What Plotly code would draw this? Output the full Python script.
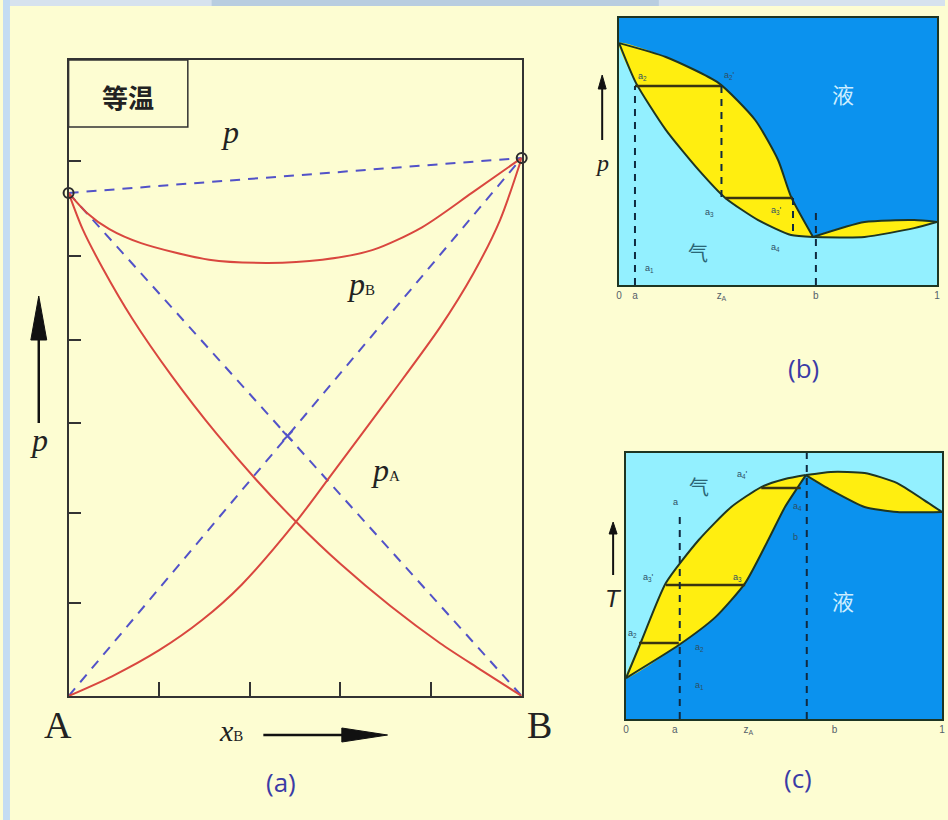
import plotly.graph_objects as go

W, H = 948, 820

# ---------------- Panel (a): isothermal p - x_B diagram (pressure in arbitrary units 0-100)
pA_star = 79.1
pB_star = 84.6
a_total_x = [0, 0.04, 0.09, 0.16, 0.31, 0.44, 0.56, 0.67, 0.78, 0.89, 1.0]
a_total_p = [79.1, 76.0, 73.4, 71.2, 68.6, 68.1, 68.6, 70.1, 73.7, 79.1, 84.6]
a_pA_x = [0, 0.031, 0.075, 0.140, 0.228, 0.327, 0.414, 0.502, 0.601, 0.711, 0.82, 0.908, 1.0]
a_pA_p = [79.1, 73.4, 67.3, 59.4, 50.3, 41.2, 34.0, 27.4, 20.7, 14.1, 8.3, 4.2, 0]
a_pB_x = [0, 0.096, 0.2, 0.294, 0.382, 0.502, 0.579, 0.711, 0.82, 0.893, 0.952, 1.0]
a_pB_p = [0, 3.1, 7.2, 11.9, 17.5, 27.4, 34.7, 47.3, 58.0, 66.4, 74.8, 84.6]
a_yticks = [84.1, 69.2, 56.0, 42.9, 28.8, 14.6]
a_xticks = [0.2, 0.4, 0.6, 0.8]

# ---------------- Panel (b): p - x diagram with minimum
b_liq_x = [0, 0.147, 0.3125, 0.428, 0.5, 0.541, 0.61]
b_liq_y = [90.6, 85.4, 75.7, 61.8, 46.8, 33.0, 18.0]
b_vap_x = [0, 0.053, 0.147, 0.25, 0.334, 0.4375, 0.541, 0.61]
b_vap_y = [90.6, 75.7, 58.1, 43.1, 32.6, 24.3, 18.7, 18.0]
b_rliq_x = [0.61, 0.772, 0.928, 1.0]
b_rliq_y = [18.0, 23.6, 24.3, 23.6]
b_rvap_x = [0.61, 0.772, 0.928, 1.0]
b_rvap_y = [18.0, 18.0, 21.3, 23.6]
b_a, b_zA, b_b, b_a3p = 0.05, 0.322, 0.619, 0.547
b_tie1_y, b_tie2_y, b_a4_y, b_bdash_top = 74.5, 32.6, 18.3, 29.2
b_tie2_x0 = 0.334
b_tick_vals = [0, 0.05, 0.322, 0.619, 1.0]
b_tick_text = ["0", "a", "z<sub>A</sub>", "b", "1"]

# ---------------- Panel (c): T - x diagram with maximum
c_vap_x = [0, 0.050, 0.126, 0.230, 0.333, 0.428, 0.503, 0.569]
c_vap_y = [15.4, 29.7, 51.1, 67.3, 79.7, 87.2, 90.2, 91.7]
c_liq_x = [0, 0.167, 0.283, 0.377, 0.450, 0.503, 0.544, 0.569]
c_liq_y = [15.4, 27.8, 38.3, 51.1, 67.3, 79.7, 87.2, 91.7]
c_rvap_x = [0.569, 0.648, 0.755, 0.858, 0.943, 1.0]
c_rvap_y = [91.7, 92.9, 92.5, 88.7, 82.3, 77.8]
c_rliq_x = [0.569, 0.648, 0.755, 0.858, 1.0]
c_rliq_y = [91.7, 86.1, 79.7, 77.8, 77.8]
c_a, c_b = 0.17, 0.572
c_a_top = 77.4
c_ties = [(0.041, 0.167, 28.6), (0.126, 0.377, 50.4), (0.428, 0.553, 86.8)]
c_tick_vals = [0, 0.154, 0.387, 0.66, 1.0]
c_tick_text = ["0", "a", "z<sub>A</sub>", "b", "1"]

# ---------------- colours
BG = "#FDFDD2"
RED = "#D9473F"
DBLUE = "#5252C8"
LIQ = "#0B92EE"
VAP = "#93F0FF"
YEL = "#FFEE10"
EDGE = "#1E3522"
LBL = "#3B3BA6"


def fx(px):
    return px / W


def fy(py):
    return 1 - py / H


fig = go.Figure()

# ======= Panel (a)
for xs, ys in [([0, 1], [pA_star, pB_star]), ([0, 1], [pA_star, 0]), ([0, 1], [0, pB_star])]:
    fig.add_trace(go.Scatter(x=xs, y=ys, mode="lines",
                             line=dict(color=DBLUE, width=2, dash="10px,8px"),
                             xaxis="x", yaxis="y", hoverinfo="skip"))
xi = pA_star / (pA_star + pB_star)
fig.add_trace(go.Scatter(x=[xi], y=[pA_star * (1 - xi)], mode="markers",
                         marker=dict(symbol="x-thin", size=10, color=DBLUE,
                                     line=dict(color=DBLUE, width=2)),
                         xaxis="x", yaxis="y", hoverinfo="skip"))
for xs, ys in [(a_total_x, a_total_p), (a_pA_x, a_pA_p), (a_pB_x, a_pB_p)]:
    fig.add_trace(go.Scatter(x=xs, y=ys, mode="lines",
                             line=dict(color=RED, width=2, shape="spline", smoothing=0.8),
                             xaxis="x", yaxis="y", hoverinfo="skip", cliponaxis=False))
fig.add_trace(go.Scatter(x=[0, 1], y=[pA_star, pB_star], mode="markers",
                         marker=dict(symbol="circle-open", size=10, color="#2a2a2a",
                                     line=dict(color="#2a2a2a", width=2)),
                         xaxis="x", yaxis="y", hoverinfo="skip", cliponaxis=False))

# ======= Panel (b)
fig.add_trace(go.Scatter(
    x=[0] + b_liq_x + b_rliq_x[1:] + [1, 0],
    y=[100] + b_liq_y + b_rliq_y[1:] + [100, 100],
    mode="lines", fill="toself", fillcolor=LIQ, line=dict(width=0, shape="spline", smoothing=0.6),
    xaxis="x2", yaxis="y2", hoverinfo="skip"))
fig.add_trace(go.Scatter(
    x=b_liq_x + b_vap_x[::-1], y=b_liq_y + b_vap_y[::-1],
    mode="lines", fill="toself", fillcolor=YEL, line=dict(width=0, shape="spline", smoothing=0.6),
    xaxis="x2", yaxis="y2", hoverinfo="skip"))
fig.add_trace(go.Scatter(
    x=b_rliq_x + b_rvap_x[::-1], y=b_rliq_y + b_rvap_y[::-1],
    mode="lines", fill="toself", fillcolor=YEL, line=dict(width=0, shape="spline", smoothing=0.6),
    xaxis="x2", yaxis="y2", hoverinfo="skip"))
for xs, ys in [(b_liq_x, b_liq_y), (b_vap_x, b_vap_y), (b_rliq_x, b_rliq_y), (b_rvap_x, b_rvap_y)]:
    fig.add_trace(go.Scatter(x=xs, y=ys, mode="lines",
                             line=dict(color=EDGE, width=2, shape="spline", smoothing=0.6),
                             xaxis="x2", yaxis="y2", hoverinfo="skip", cliponaxis=False))
fig.add_trace(go.Scatter(x=[b_a, b_zA], y=[b_tie1_y, b_tie1_y], mode="lines",
                         line=dict(color="#3a3410", width=2.5), xaxis="x2", yaxis="y2", hoverinfo="skip"))
fig.add_trace(go.Scatter(x=[b_tie2_x0, b_a3p], y=[b_tie2_y, b_tie2_y], mode="lines",
                         line=dict(color="#3a3410", width=2.5), xaxis="x2", yaxis="y2", hoverinfo="skip"))
for xv, y0, y1 in [(b_a, 0, b_tie1_y), (b_zA, b_tie1_y, b_tie2_y), (b_a3p, b_tie2_y, b_a4_y), (b_b, 0, b_bdash_top)]:
    fig.add_trace(go.Scatter(x=[xv, xv], y=[y0, y1], mode="lines",
                             line=dict(color="#102a40", width=2, dash="7px,6px"),
                             xaxis="x2", yaxis="y2", hoverinfo="skip"))

# ======= Panel (c)
fig.add_trace(go.Scatter(
    x=[0] + c_liq_x + c_rliq_x[1:] + [1, 0],
    y=[0] + c_liq_y + c_rliq_y[1:] + [0, 0],
    mode="lines", fill="toself", fillcolor=LIQ, line=dict(width=0, shape="spline", smoothing=0.6),
    xaxis="x3", yaxis="y3", hoverinfo="skip"))
fig.add_trace(go.Scatter(
    x=c_vap_x + c_liq_x[::-1], y=c_vap_y + c_liq_y[::-1],
    mode="lines", fill="toself", fillcolor=YEL, line=dict(width=0, shape="spline", smoothing=0.6),
    xaxis="x3", yaxis="y3", hoverinfo="skip"))
fig.add_trace(go.Scatter(
    x=c_rvap_x + c_rliq_x[::-1], y=c_rvap_y + c_rliq_y[::-1],
    mode="lines", fill="toself", fillcolor=YEL, line=dict(width=0, shape="spline", smoothing=0.6),
    xaxis="x3", yaxis="y3", hoverinfo="skip"))
for xs, ys in [(c_vap_x, c_vap_y), (c_liq_x, c_liq_y), (c_rvap_x, c_rvap_y), (c_rliq_x, c_rliq_y)]:
    fig.add_trace(go.Scatter(x=xs, y=ys, mode="lines",
                             line=dict(color=EDGE, width=2, shape="spline", smoothing=0.6),
                             xaxis="x3", yaxis="y3", hoverinfo="skip", cliponaxis=False))
for x0, x1, yv in c_ties:
    fig.add_trace(go.Scatter(x=[x0, x1], y=[yv, yv], mode="lines",
                             line=dict(color="#3a3410", width=2.5), xaxis="x3", yaxis="y3", hoverinfo="skip"))
for xv, y0, y1 in [(c_a, 0, c_a_top), (c_b, 0, 100)]:
    fig.add_trace(go.Scatter(x=[xv, xv], y=[y0, y1], mode="lines",
                             line=dict(color="#102a40", width=2, dash="7px,6px"),
                             xaxis="x3", yaxis="y3", hoverinfo="skip"))

# ---------------- axes
frame_a = dict(showline=True, mirror=True, linecolor="#333333", linewidth=1.5,
               showgrid=False, zeroline=False, showticklabels=False,
               ticks="inside", tickcolor="#333333", tickwidth=2)
frame_bc = dict(showline=True, mirror=True, linecolor=EDGE, linewidth=2,
                showgrid=False, zeroline=False, fixedrange=True)

layout = dict(
    width=W, height=H, autosize=False,
    margin=dict(l=0, r=0, t=0, b=0),
    paper_bgcolor=BG, plot_bgcolor="rgba(0,0,0,0)",
    showlegend=False,
    xaxis=dict(domain=[fx(66), fx(522)], range=[0, 1], anchor="y",
               tickvals=a_xticks, ticklen=14, **frame_a),
    yaxis=dict(domain=[fy(696), fy(60)], range=[0, 100], anchor="x",
               tickvals=a_yticks, ticklen=13, **frame_a),
    xaxis2=dict(domain=[fx(620), fx(940)], range=[0, 1], anchor="y2",
                tickvals=b_tick_vals, ticktext=b_tick_text, ticks="",
                tickfont=dict(size=10, color="#55606a", family="Arial"), **frame_bc),
    yaxis2=dict(domain=[fy(285), fy(18)], range=[0, 100], anchor="x2",
                showticklabels=False, ticks="", **frame_bc),
    xaxis3=dict(domain=[fx(627), fx(945)], range=[0, 1], anchor="y3",
                tickvals=c_tick_vals, ticktext=c_tick_text, ticks="",
                tickfont=dict(size=10, color="#55606a", family="Arial"), **frame_bc),
    yaxis3=dict(domain=[fy(719), fy(453)], range=[0, 100], anchor="x3",
                showticklabels=False, ticks="", **frame_bc),
)
fig.update_layout(**layout)

# ---------------- shapes
shapes = [
    dict(type="rect", xref="paper", yref="paper", x0=0, x1=1, y0=fy(6), y1=1,
         fillcolor="#d6e2ee", line=dict(width=0), layer="below"),
    dict(type="rect", xref="paper", yref="paper", x0=fx(210), x1=fx(660), y0=fy(6), y1=1,
         fillcolor="#b8cde0", line=dict(width=0), layer="below"),
    dict(type="rect", xref="paper", yref="paper", x0=0, x1=fx(7), y0=0, y1=1,
         fillcolor="#c4dcf2", line=dict(width=0), layer="below"),
    dict(type="rect", xref="x2 domain", yref="y2 domain", x0=0, x1=1, y0=0, y1=1,
         fillcolor=VAP, line=dict(width=0), layer="below"),
    dict(type="rect", xref="x3 domain", yref="y3 domain", x0=0, x1=1, y0=0, y1=1,
         fillcolor=VAP, line=dict(width=0), layer="below"),
    dict(type="rect", xref="paper", yref="paper", x0=fx(66), x1=fx(186), y0=fy(127), y1=fy(60),
         line=dict(color="#333333", width=1.5), fillcolor="rgba(0,0,0,0)"),
]


def arrow_up(x, y_tail, y_tip, head_len, head_half, width):
    return [
        dict(type="line", xref="paper", yref="paper", x0=fx(x), x1=fx(x),
             y0=fy(y_tail), y1=fy(y_tip + head_len - 2), line=dict(color="#111111", width=width)),
        dict(type="path", xref="paper", yref="paper",
             path=f"M {fx(x - head_half)} {fy(y_tip + head_len)} L {fx(x + head_half)} {fy(y_tip + head_len)} L {fx(x)} {fy(y_tip)} Z",
             fillcolor="#111111", line=dict(color="#111111", width=1)),
    ]


shapes += arrow_up(36, 423, 296, 44, 8, 2.5)
shapes += arrow_up(603, 140, 75, 14, 4, 2)
shapes += arrow_up(614, 575, 522, 12, 4, 2)
shapes += [
    dict(type="line", xref="paper", yref="paper", x0=fx(262), x1=fx(345), y0=fy(735), y1=fy(735),
         line=dict(color="#111111", width=2.5)),
    dict(type="path", xref="paper", yref="paper",
         path=f"M {fx(341)} {fy(728)} L {fx(341)} {fy(742)} L {fx(387)} {fy(735)} Z",
         fillcolor="#111111", line=dict(color="#111111", width=1)),
]
fig.update_layout(shapes=shapes)

# ---------------- annotations
anns = []


def ann(text, x, y, size, color="#111111", family="Liberation Serif", **kw):
    d = dict(text=text, x=fx(x), y=fy(y), xref="paper", yref="paper", showarrow=False,
             xanchor="center", yanchor="middle", font=dict(size=size, color=color, family=family))
    d.update(kw)
    anns.append(d)


SERIF = "Liberation Serif"
ann("<b>等温</b>", 126, 96, 26, "#222222", "Noto Sans CJK SC")
ann("<i>p</i>", 228, 132, 32, "#222222", SERIF)
ann("<i>p</i><span style='font-size:15px'>B</span>", 360, 284, 32, "#222222", SERIF)
ann("<i>p</i><span style='font-size:15px'>A</span>", 385, 470, 32, "#222222", SERIF)
ann("<i>p</i>", 36, 440, 32, "#222222", SERIF)
ann("A", 55, 725, 38, "#222222", SERIF)
ann("B", 540, 725, 38, "#222222", SERIF)
ann("<i>x</i><span style='font-size:15px'>B</span>", 229, 730, 30, "#222222", SERIF)
ann("(a)", 280, 782, 26, LBL, "Open Sans")
ann("(b)", 806, 368, 26, LBL, "Open Sans")
ann("(c)", 800, 778, 26, LBL, "Open Sans")

ann("<i>p</i>", 603, 163, 24, "#222222", SERIF)
ann("液", 845, 93, 22, "#cdeeff", "Noto Sans CJK SC")
ann("气", 699, 252, 20, "#2a6676", "Noto Sans CJK SC")
small = "#2d4e63"
ann("a<sub>2</sub>", 644, 77, 9, small, "Arial")
ann("a<sub>2</sub>'", 731, 76, 9, small, "Arial")
ann("a<sub>3</sub>", 711, 212, 9, small, "Arial")
ann("a<sub>3</sub>'", 778, 210, 9, small, "Arial")
ann("a<sub>4</sub>", 777, 247, 9, small, "Arial")
ann("a<sub>1</sub>", 651, 268, 9, small, "Arial")

ann("<i>T</i>", 614, 598, 24, "#222222", "Liberation Sans")
ann("液", 845, 600, 22, "#cdeeff", "Noto Sans CJK SC")
ann("气", 700, 486, 20, "#2a6676", "Noto Sans CJK SC")
ann("a<sub>4</sub>'", 744, 475, 9, small, "Arial")
ann("a", 677, 502, 9, small, "Arial")
ann("a<sub>4</sub>", 800, 506, 9, small, "Arial")
ann("b", 798, 537, 9, small, "Arial")
ann("a<sub>3</sub>'", 650, 577, 9, small, "Arial")
ann("a<sub>3</sub>", 739, 577, 9, small, "Arial")
ann("a<sub>2</sub>", 634, 633, 9, small, "Arial")
ann("a<sub>2</sub>", 701, 647, 9, small, "Arial")
ann("a<sub>1</sub>", 701, 685, 9, small, "Arial")

fig.update_layout(annotations=anns)

fig.write_html("out.html", include_plotlyjs=True, config={"displayModeBar": False},
               post_script="document.body.style.margin='0';document.body.style.padding='0';"
                           "document.body.style.overflow='hidden';document.body.style.background='%s';" % BG)
